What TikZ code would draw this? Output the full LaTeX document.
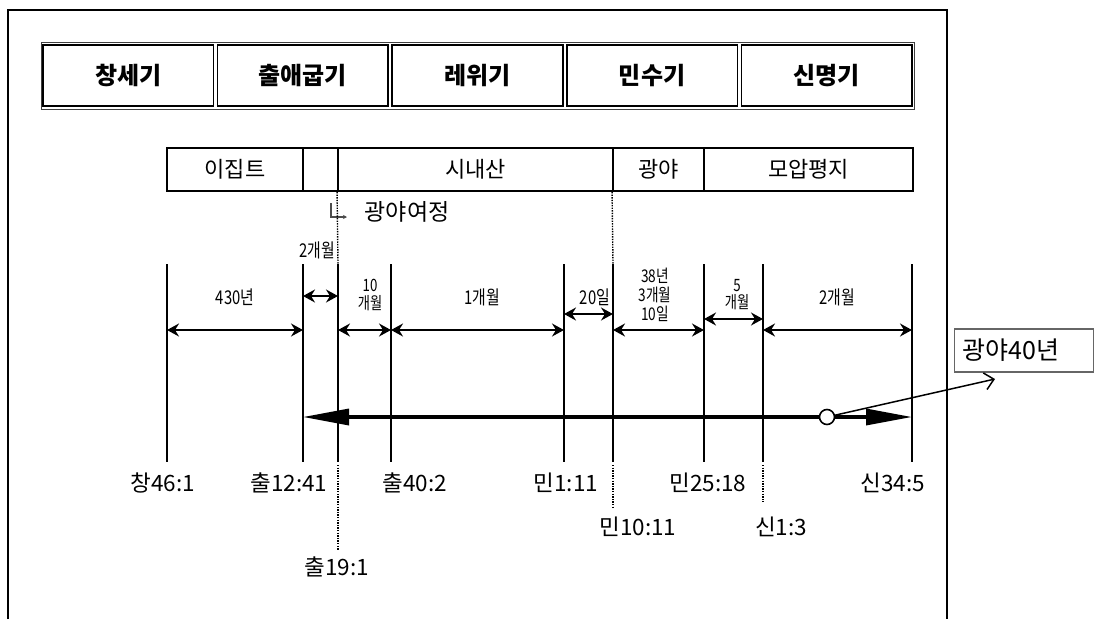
\documentclass[tikz,border=0pt]{standalone}
\usepackage{fontspec}
\setmainfont{Noto Sans CJK KR}
\newfontfamily\narrowkr[FakeStretch=0.78]{Noto Sans CJK KR}
\usetikzlibrary{arrows.meta,calc}
\tikzset{
  frameline/.style={line width=2.6pt},
  outerline/.style={draw=black!75, line width=1pt},
  cellbox/.style={draw, line width=1.5pt, minimum width=170.6pt, minimum height=61pt, inner sep=0pt, font=\fontsize{24pt}{24pt}\selectfont\bfseries},
  segbox/.style={draw, line width=1.9pt, minimum height=43pt, inner sep=0pt, font=\fontsize{22pt}{22pt}\selectfont},
  vline/.style={line width=2.2pt},
  dotline/.style={line width=1.4pt, dash pattern=on 1.4pt off 1.2pt},
  span/.style={line width=1.8pt, {Stealth[length=12pt,width=13pt,inset=4pt]}-{Stealth[length=12pt,width=13pt,inset=4pt]}},
  mainarrow/.style={line width=3.4pt, {Triangle[length=46pt,width=16pt]}-{Triangle[length=46pt,width=16pt]}},
  small/.style={inner sep=0pt, align=center, font=\narrowkr\fontsize{19pt}{19pt}\selectfont},
  stacked/.style={inner sep=0pt, align=center, font=\narrowkr\fontsize{17pt}{17.5pt}\selectfont},
  ref/.style={inner sep=0pt, font=\fontsize{22.5pt}{22.5pt}\selectfont},
  pointer/.style={line width=1.5pt, -{Straight Barb[length=9pt,width=17pt,line width=1.5pt]}},
  labbox/.style={draw=black!60, line width=1.2pt, anchor=west, minimum height=43pt, text width=123pt, inner xsep=8pt, align=left, font=\fontsize{25pt}{25pt}\selectfont},
  marker/.style={draw=black!70, line width=1.1pt, -{Stealth[length=4pt,width=4pt]}},
}
\begin{document}
\begin{tikzpicture}[x=1pt,y=-1pt]
\useasboundingbox (0,0) rectangle (1095,619);
\fill[white] (0,0) rectangle (1095,619);

% outer frame (open at the bottom)
\draw[frameline] (8,619) -- (8,10) -- (947,10) -- (947,619);

% book table
\draw[outerline] (41,42) rectangle (914,109);
\node[cellbox] (c1) at (128.3,75.5) {창세기};
\node[cellbox] (c2) at (302.9,75.5) {출애굽기};
\node[cellbox] (c3) at (477.5,75.5) {레위기};
\node[cellbox] (c4) at (652.1,75.5) {민수기};
\node[cellbox] (c5) at (826.7,75.5) {신명기};

% places bar
\node[segbox, minimum width=136pt] (s1) at (235,169.5) {이집트};
\node[segbox, minimum width=35pt] (s2) at (320.5,169.5) {};
\node[segbox, minimum width=275pt] (s3) at (475.5,169.5) {시내산};
\node[segbox, minimum width=91pt] (s4) at (658.5,169.5) {광야};
\node[segbox, minimum width=209pt] (s5) at (808.5,169.5) {모압평지};

% wilderness journey marker
\coordinate (m1) at (331,203);
\coordinate (m2) at (331,217);
\coordinate (m3) at (347,217);
\draw[marker] (m1) -- (m2) -- (m3);
\node[inner sep=0pt, font=\fontsize{23pt}{23pt}\selectfont] (jour) at (407,212) {광야여정};

% vertical timeline marks
\foreach \i/\x in {1/167,2/303,3/338,4/391,5/564,6/613,7/704,8/763,9/912}{
  \coordinate (t\i) at (\x,264);
  \coordinate (b\i) at (\x,462);
  \coordinate (d\i) at (\x,465);
  \draw[vline] (t\i) -- (b\i);
}

% dotted guide lines
\draw[dotline] (s3.south west) -- (t3);
\draw[dotline] (s4.south west) -- (t6);
\coordinate (e3) at (338,550);
\coordinate (e6) at (613,508);
\coordinate (e8) at (763,502);
\draw[dotline] (d3) -- (e3);
\draw[dotline] (d6) -- (e6);
\draw[dotline] (d8) -- (e8);

% span rows
\coordinate (rA) at (0,330);
\coordinate (rB) at (0,296);
\coordinate (rC) at (0,314);
\coordinate (rD) at (0,319);
\coordinate (rM) at (0,417);
\draw[span] (t1 |- rA) -- (t2 |- rA);
\draw[span] (t2 |- rB) -- (t3 |- rB);
\draw[span] (t3 |- rA) -- (t4 |- rA);
\draw[span] (t4 |- rA) -- (t5 |- rA);
\draw[span] (t5 |- rC) -- (t6 |- rC);
\draw[span] (t6 |- rA) -- (t7 |- rA);
\draw[span] (t7 |- rD) -- (t8 |- rD);
\draw[span] (t8 |- rA) -- (t9 |- rA);

% span labels
\node[small] (l1) at (235,297) {430년};
\node[small] (l2) at (317,250) {2개월};
\node[stacked] (l3) at (370,295) {10\\개월};
\node[small] (l4) at (482,297) {1개월};
\node[small] (l5) at (595,297) {20일};
\node[stacked, font=\narrowkr\fontsize{17.5pt}{19pt}\selectfont] (l6) at (655,295) {38년\\3개월\\10일};
\node[stacked] (l7) at (737,294.5) {5\\개월};
\node[small] (l8) at (837,297) {2개월};

% main 40-year arrow
\draw[mainarrow] (t2 |- rM) -- (t9 |- rM);
\node[circle, draw, fill=white, line width=1.6pt, minimum size=15pt, inner sep=0pt] (circ) at (827,417) {};
\node[labbox] (box) at (954,350.5) {광야40년};
\coordinate (ptip) at (995,379);
\draw[pointer] (circ) -- (ptip);

% reference labels
\node[ref] (r1) at (163,483) {창46:1};
\node[ref] (r2) at (289,483) {출12:41};
\node[ref] (r3) at (415,483) {출40:2};
\node[ref] (r4) at (566,483) {민1:11};
\node[ref] (r5) at (708,483) {민25:18};
\node[ref] (r6) at (893,483) {신34:5};
\node[ref] (r7) at (638,527) {민10:11};
\node[ref] (r8) at (781,527) {신1:3};
\node[ref] (r9) at (337,567) {출19:1};
\end{tikzpicture}
\end{document}
